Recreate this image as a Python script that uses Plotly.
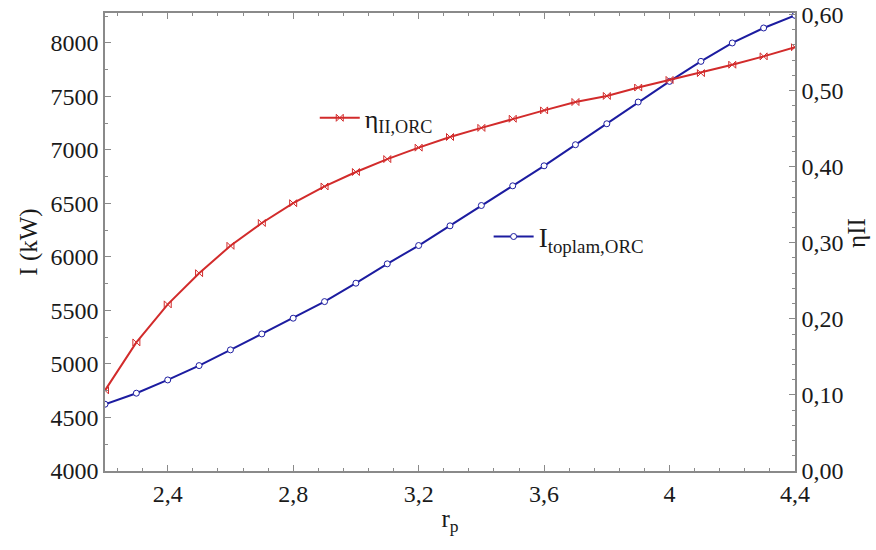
import plotly.graph_objects as go

rp = [2.2, 2.3, 2.4, 2.5, 2.6, 2.7, 2.8, 2.9, 3.0, 3.1, 3.2, 3.3,
      3.4, 3.5, 3.6, 3.7, 3.8, 3.9, 4.0, 4.1, 4.2, 4.3, 4.4]
I_toplam = [4624, 4727, 4851, 4985, 5132, 5281, 5428, 5583, 5755, 5936, 6107, 6291,
            6481, 6665, 6852, 7049, 7245, 7448, 7641, 7828, 8000, 8140, 8258]
eta_II = [0.106, 0.169, 0.219, 0.260, 0.296, 0.326, 0.352, 0.374, 0.393, 0.410, 0.425, 0.439,
          0.451, 0.463, 0.474, 0.485, 0.493, 0.504, 0.514, 0.523, 0.534, 0.545, 0.557]

RED = "#d22b2b"
BLUE = "#1c1ca0"
FONT = "Liberation Serif"
AX = "#8a8a8a"
TXT = "#1a1a1a"

fig = go.Figure()
fig.add_trace(go.Scatter(
    x=rp, y=eta_II, yaxis="y2", mode="lines+markers",
    name="η<sub>II,ORC</sub>", legend="legend", showlegend=True,
    line=dict(color=RED, width=2),
    marker=dict(symbol="bowtie-open", size=7, color=RED, line=dict(width=1, color=RED)),
))
fig.add_trace(go.Scatter(
    x=rp, y=I_toplam, yaxis="y", mode="lines+markers",
    name="I<sub>toplam,ORC</sub>", legend="legend2", showlegend=True,
    line=dict(color=BLUE, width=2),
    marker=dict(symbol="circle", size=6, color="white", line=dict(width=1, color=BLUE)),
))

tf = dict(family=FONT, size=24, color=TXT)
fig.update_layout(
    width=876, height=550,
    margin=dict(l=105, r=81, t=13, b=79, autoexpand=False),
    paper_bgcolor="white", plot_bgcolor="white",
    separators=", ",
    showlegend=True,
    font=dict(family=FONT, color=TXT, size=24),
    xaxis=dict(
        range=[2.2, 4.4], dtick=0.4, tick0=2.4, automargin=False,
        showline=True, linecolor=AX, linewidth=1.5, mirror="ticks",
        ticks="inside", ticklen=6, tickcolor=AX, tickwidth=1,
        minor=dict(dtick=0.08, ticks="inside", ticklen=3, tickcolor=AX),
        showgrid=False, zeroline=False, tickfont=tf,
        title=dict(text="r<sub>p</sub>", font=dict(family=FONT, size=25, color=TXT), standoff=4),
    ),
    yaxis=dict(
        range=[4000, 8280], dtick=500, tick0=4000, automargin=False,
        showline=True, linecolor=AX, linewidth=1.5,
        ticks="inside", ticklen=6, tickcolor=AX, tickwidth=1,
        minor=dict(dtick=250, ticks="inside", ticklen=3, tickcolor=AX),
        showgrid=False, zeroline=False, tickfont=tf,
        title=dict(text="I (kW)", font=dict(family=FONT, size=25, color=TXT), standoff=6),
    ),
    yaxis2=dict(
        overlaying="y", side="right", automargin=False,
        range=[0, 0.602], dtick=0.1, tick0=0, tickformat=".2f",
        showline=True, linecolor=AX, linewidth=1.5,
        ticks="inside", ticklen=6, tickcolor=AX, tickwidth=1,
        minor=dict(dtick=0.02, ticks="inside", ticklen=3, tickcolor=AX),
        showgrid=False, zeroline=False, tickfont=tf,
    ),
    legend=dict(x=0.304, y=0.771, xanchor="left", yanchor="middle",
                bgcolor="rgba(0,0,0,0)", font=dict(family=FONT, size=26, color=TXT),
                itemwidth=40, tracegroupgap=0),
    legend2=dict(x=0.556, y=0.511, xanchor="left", yanchor="middle",
                 bgcolor="rgba(0,0,0,0)", font=dict(family=FONT, size=27, color=TXT),
                 itemwidth=40, tracegroupgap=0),
    annotations=[dict(
        text="ηII", textangle=-90, xref="paper", yref="paper",
        x=1.09, y=0.52, xanchor="center", yanchor="middle", showarrow=False,
        font=dict(family=FONT, size=25, color=TXT),
    )],
)

fig.write_html("out.html")
